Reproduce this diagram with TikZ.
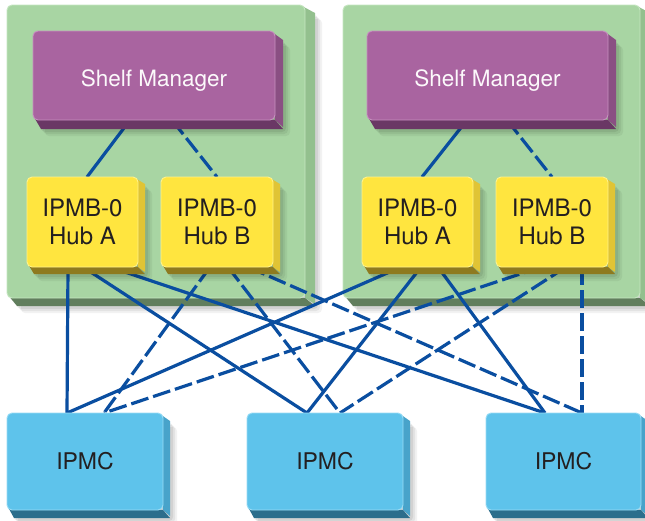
\documentclass[tikz,border=0pt]{standalone}
\usepackage{fontspec}
\setmainfont{TeX Gyre Heros}
\definecolor{linkblue}{HTML}{0A4EA0}
\definecolor{gface}{HTML}{A8D5A3}
\definecolor{ghigh}{HTML}{C6E6C2}
\definecolor{gside}{HTML}{93C08E}
\definecolor{gbot}{HTML}{617E5D}
\definecolor{pface}{HTML}{A964A0}
\definecolor{phigh}{HTML}{C690BF}
\definecolor{pside}{HTML}{8A4F83}
\definecolor{pbot}{HTML}{6A3765}
\definecolor{yface}{HTML}{FFE53F}
\definecolor{yhigh}{HTML}{FFF28A}
\definecolor{yside}{HTML}{E0C435}
\definecolor{ybot}{HTML}{8E7A1F}
\definecolor{cface}{HTML}{5EC3EB}
\definecolor{chigh}{HTML}{9ADCF5}
\definecolor{cside}{HTML}{48A3CA}
\definecolor{cbot}{HTML}{2C6E8C}
\definecolor{txt}{HTML}{231F20}
\pgfdeclarelayer{panels}
\pgfdeclarelayer{links}
\pgfsetlayers{panels,links,main}
% #1 x1, #2 y1, #3 x2, #4 y2, #5 dx, #6 dy, #7 side colour, #8 bottom colour
\newcommand\extrudebox[8]{%
  \foreach \s/\o in {7/0.05,5/0.06,3/0.07}{
    \fill[black,opacity=\o,rounded corners=4] (#1+#5+\s-3,#2+#6+\s-1) rectangle (#3+#5+\s,#4+#6+\s);
  }
  \fill[#7] (#3-3,#2+1) -- (#3+#5,#2+#6) -- (#3+#5,#4+#6-2) -- (#3,#4) -- cycle;
  \fill[#8] (#1+1,#4-3) -- (#3,#4) -- (#3+#5,#4+#6) -- (#1+#5,#4+#6) -- cycle;
}
\tikzset{
  face/.style={rectangle,rounded corners=5pt,inner sep=0pt,outer sep=0pt,line width=0.9pt,align=center},
  panel/.style={face,fill=gface,draw=ghigh,minimum height=293pt},
  smbox/.style={face,fill=pface,draw=phigh,minimum width=242pt,minimum height=89pt,text=white!96!pface,font=\fontsize{22.5}{27}\selectfont},
  hubbox/.style={face,fill=yface,draw=yhigh,minimum width=111pt,minimum height=90pt,text=txt,font=\fontsize{24}{27.5}\selectfont},
  ipmcbox/.style={face,fill=cface,draw=chigh,minimum width=156pt,minimum height=97pt,text=txt,font=\fontsize{23}{27}\selectfont},
  link/.style={draw=linkblue,line width=3.2pt},
  dlink/.style={link,dash pattern=on 18pt off 5pt},
}
\begin{document}
\begin{tikzpicture}[x=1pt,y=-1pt]
\useasboundingbox (0,0) rectangle (645,520);
\begin{pgfonlayer}{panels}
\fill[white] (0,0) rectangle (645,520);
\extrudebox{7}{5}{305}{298}{10}{8}{gside}{gbot}
\node[panel,minimum width=298pt] (panelL) at (156,151.5) {};
\extrudebox{343}{5}{640}{298}{10}{8}{gside}{gbot}
\node[panel,minimum width=297pt] (panelR) at (491.5,151.5) {};
\end{pgfonlayer}
% shelf managers
\extrudebox{33}{31}{275}{120}{8}{9}{pside}{pbot}
\node[smbox] (smL) at (154,75.5) {\raisebox{-10.5pt}[0pt][0pt]{Shelf Manager}};
\extrudebox{367}{31}{608}{120}{8}{9}{pside}{pbot}
\node[smbox,minimum width=241pt] (smR) at (487.5,75.5) {\raisebox{-10.5pt}[0pt][0pt]{Shelf Manager}};
% hubs
\extrudebox{27}{177}{138}{267}{7}{7}{yside}{ybot}
\node[hubbox] (lhA) at (82.5,222) {IPMB-0\\Hub A};
\extrudebox{161}{177}{273}{267}{7}{7}{yside}{ybot}
\node[hubbox,minimum width=112pt] (lhB) at (217,222) {IPMB-0\\Hub B};
\extrudebox{362}{177}{473}{267}{7}{7}{yside}{ybot}
\node[hubbox] (rhA) at (417.5,222) {IPMB-0\\Hub A};
\extrudebox{496}{177}{608}{267}{7}{7}{yside}{ybot}
\node[hubbox,minimum width=112pt] (rhB) at (552,222) {IPMB-0\\Hub B};
% IPMCs
\extrudebox{7}{413}{163}{510}{7}{8}{cside}{cbot}
\node[ipmcbox] (ip1) at (85,461.5) {IPMC};
\extrudebox{247}{413}{403}{510}{7}{8}{cside}{cbot}
\node[ipmcbox] (ip2) at (325,461.5) {IPMC};
\extrudebox{486}{413}{641}{510}{7}{8}{cside}{cbot}
\node[ipmcbox,minimum width=155pt] (ip3) at (563.5,461.5) {IPMC};
\begin{pgfonlayer}{links}
% shelf manager to hubs
\draw[link]  ([xshift=97pt]smL.south west) -- ([xshift=60pt]lhA.north west);
\draw[dlink] ([xshift=139pt]smL.south west) -- ([xshift=56pt]lhB.north west);
\draw[link]  ([xshift=100pt]smR.south west) -- ([xshift=60pt]rhA.north west);
\draw[dlink] ([xshift=140pt]smR.south west) -- ([xshift=56pt]rhB.north west);
% hubs to IPMCs
\draw[link]  ([xshift=41pt]lhA.south west) -- ([xshift=60pt]ip1.north west);
\draw[link]  ([xshift=56pt]lhA.south west) -- ([xshift=60pt]ip2.north west);
\draw[link]  ([xshift=83pt]lhA.south west) -- ([xshift=59pt]ip3.north west);
\draw[dlink] ([xshift=49pt]lhB.south west) -- ([xshift=97pt]ip1.north west);
\draw[dlink] ([xshift=67pt]lhB.south west) -- ([xshift=93pt]ip2.north west);
\draw[dlink] ([xshift=87pt]lhB.south west) -- ([xshift=96pt]ip3.north west);
\draw[link]  ([xshift=39pt]rhA.south west) -- ([xshift=60pt]ip1.north west);
\draw[link]  ([xshift=59pt]rhA.south west) -- ([xshift=60pt]ip2.north west);
\draw[link]  ([xshift=76pt]rhA.south west) -- ([xshift=59pt]ip3.north west);
\draw[dlink] ([xshift=45pt]rhB.south west) -- ([xshift=97pt]ip1.north west);
\draw[dlink] ([xshift=70pt]rhB.south west) -- ([xshift=93pt]ip2.north west);
\draw[dlink] ([xshift=86pt]rhB.south west) -- ([xshift=96pt]ip3.north west);
\end{pgfonlayer}
\end{tikzpicture}
\end{document}
